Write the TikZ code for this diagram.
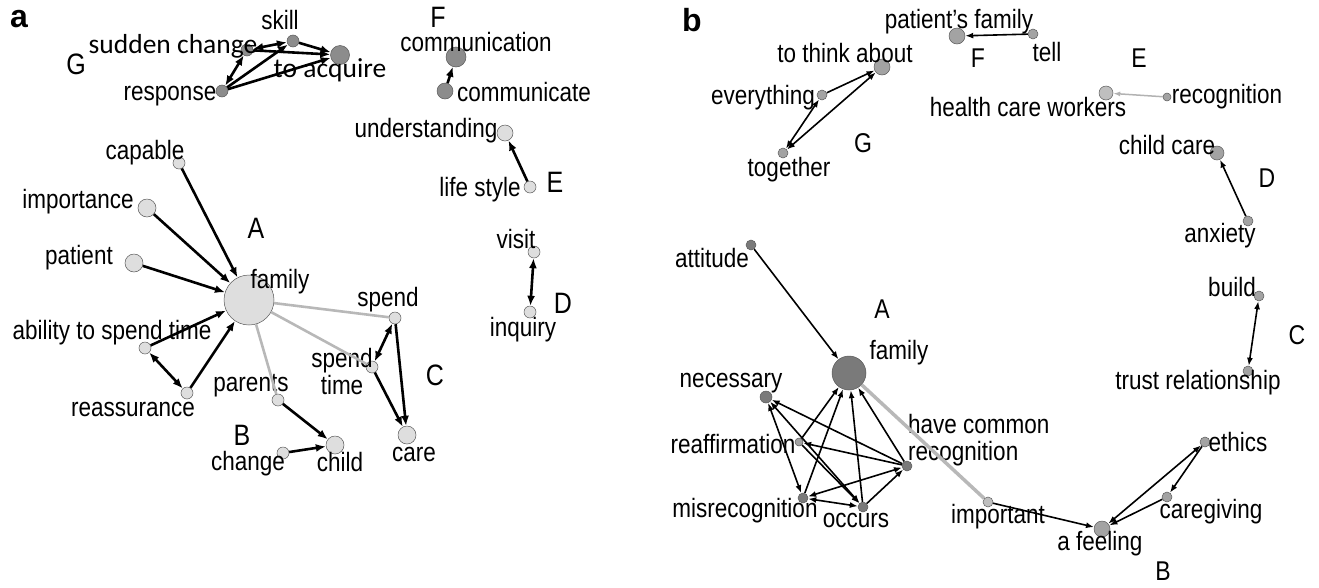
\documentclass[tikz,border=0pt]{standalone}
\usepackage{fontspec}
\setmainfont{Liberation Sans}
\newfontfamily\carl{Carlito}
\usepackage{graphicx}
\usepackage{tikz}
\usetikzlibrary{arrows.meta, positioning}
\newcommand*{\st}[1]{\scalebox{1}[1.18]{#1}}

\tikzset{
 dot/.style={circle, draw=black!65, line width=0.5pt, inner sep=0pt},
 lt/.style={fill=black!13},
 dk/.style={fill=black!45},
 md/.style={fill=black!36},
 db/.style={fill=black!52},
 lbl/.style={font=\fontsize{22.5}{27}\selectfont, inner sep=0pt},
 lblc/.style={font=\carl\fontsize{27.5}{29}\selectfont, inner sep=0pt},
 grp/.style={font=\fontsize{25}{27}\selectfont, inner sep=0pt},
 grpb/.style={font=\fontsize{23}{25}\selectfont, inner sep=0pt},
 panel/.style={font=\bfseries\fontsize{32}{33}\selectfont, inner sep=0pt},
 ea/.style={line width=2.6pt, -{Latex[length=10pt,width=8pt]}},
 eab/.style={line width=2.6pt, {Latex[length=10pt,width=8pt]}-{Latex[length=10pt,width=8pt]}},
 eb/.style={line width=1.6pt, -{Latex[length=8pt,width=6pt]}},
 ebb/.style={line width=1.6pt, {Latex[length=8pt,width=6pt]}-{Latex[length=8pt,width=6pt]}},
 ga/.style={line width=2.6pt, draw=black!28},
}

\begin{document}
\begin{tikzpicture}[x=1pt, y=-1pt]
 \useasboundingbox (0,0) rectangle (1319,587);

 % panel a
 \node[panel] (pa) at (19,19) {a};

 % G
 \node[dot, dk, minimum size=12pt] (skill) at (293,41) {};
 \node[dot, dk, minimum size=12pt] (sudden) at (247,50) {};
 \node[dot, dk, minimum size=19pt] (acquire) at (340,55) {};
 \node[dot, dk, minimum size=12pt] (response) at (222,91) {};
 \node[lbl] (skill-l) at (280,20) {\st{skill}};
 \node[lblc] (sudden-l) at (173,46) {sudden change};
 \node[lblc] (acquire-l) at (330,70) {to acquire};
 \node[lbl] (response-l) at (170,96) {\st{response}};
 \node[grp] (ga) at (76,64) {\st{G}};
 \draw[eab] (sudden) -- (skill);
 \draw[ea] (skill) -- (acquire);
 \draw[ea] (sudden) -- (acquire);
 \draw[ea] (response) -- (acquire);
 \draw[ea] (response) -- (skill);
 \draw[eab] (response) -- (sudden);

 % F
 \node[dot, dk, minimum size=20pt] (comm) at (456,57) {};
 \node[dot, dk, minimum size=16pt] (commt) at (445,91) {};
 \node[grp] (fa) at (438,17) {\st{F}};
 \node[lbl] (comm-l) at (476,42) {\st{communication}};
 \node[lbl] (commt-l) at (524,92) {\st{communicate}};
 \draw[ea] (commt) -- (comm);

 % E
 \node[dot, lt, minimum size=16pt] (underst) at (505,133) {};
 \node[dot, lt, minimum size=12pt] (lifestyle) at (530,187) {};
 \node[lbl] (underst-l) at (426,131) {\st{understanding}};
 \node[lbl] (lifestyle-l) at (480,190) {\st{life style}};
 \node[grp] (ea) at (555,182) {\st{E}};
 \draw[ea] (lifestyle) -- (underst);

 % D
 \node[dot, lt, minimum size=12pt] (visit) at (534,252) {};
 \node[dot, lt, minimum size=12pt] (inquiry) at (530,312) {};
 \node[lbl] (visit-l) at (516,239) {\st{visit}};
 \node[lbl] (inquiry-l) at (523,330) {\st{inquiry}};
 \node[grp] (da) at (563,303) {\st{D}};
 \draw[eab] (visit) -- (inquiry);

 % A
 \node[dot, lt, minimum size=50pt] (family) at (249,300) {};
 \node[lbl] (family-l) at (280,282) {\st{family}};
 \node[grp] (aa) at (256,228) {\st{A}};
 \node[dot, lt, minimum size=12pt] (capable) at (179,163) {};
 \node[dot, lt, minimum size=18pt] (importance) at (147,208) {};
 \node[dot, lt, minimum size=18pt] (patient) at (134,263) {};
 \node[dot, lt, minimum size=12pt] (ability) at (145,348) {};
 \node[dot, lt, minimum size=12pt] (reassur) at (187,393) {};
 \node[lbl] (capable-l) at (145,153) {\st{capable}};
 \node[lbl] (importance-l) at (78,202) {\st{importance}};
 \node[lbl] (patient-l) at (79,258) {\st{patient}};
 \node[lbl] (ability-l) at (112,333) {\st{ability to spend time}};
 \node[lbl] (reassur-l) at (133,409) {\st{reassurance}};
 \draw[ea] (capable) -- (family);
 \draw[ea] (importance) -- (family);
 \draw[ea] (patient) -- (family);
 \draw[ea] (ability) -- (family);
 \draw[ea] (reassur) -- (family);
 \draw[eab] (ability) -- (reassur);

 % B
 \node[dot, lt, minimum size=12pt] (parents) at (278,400) {};
 \node[dot, lt, minimum size=18pt] (child) at (335,445) {};
 \node[dot, lt, minimum size=12pt] (change) at (283,453) {};
 \node[lbl] (parents-l) at (251,386) {\st{parents}};
 \node[lbl] (child-l) at (340,462) {\st{child}};
 \node[lbl] (change-l) at (248,464) {\st{change}};
 \node[grp] (ba) at (242,435) {\st{B}};
 \draw[ea] (parents) -- (child);
 \draw[ea] (change) -- (child);

 % C
 \node[dot, lt, minimum size=12pt] (spend) at (395,318) {};
 \node[dot, lt, minimum size=12pt] (spendt) at (372,367) {};
 \node[dot, lt, minimum size=18pt] (care) at (407,435) {};
 \node[lbl] (spend-l) at (388,300) {\st{spend}};
 \node[lbl, align=center] (spendt-l) at (342,372) {\st{spend}\\\st{time}};
 \node[lbl] (care-l) at (414,454) {\st{care}};
 \node[grp] (ca) at (435,375) {\st{C}};
 \draw[eab] (spend) -- (spendt);
 \draw[ea] (spend) -- (care);
 \draw[ea] (spendt) -- (care);

 \draw[ga] (family) -- (parents);
 \draw[ga] (family) -- (spend);
 \draw[ga] (family) -- (spendt);

 % panel b
 \node[panel] (pb) at (692,20) {b};

 % G
 \node[dot, md, minimum size=16pt] (think) at (882,67) {};
 \node[dot, md, minimum size=10pt] (everything) at (822,95) {};
 \node[dot, md, minimum size=10pt] (together) at (783,153) {};
 \node[lbl] (think-l) at (845,53) {\st{to think about}};
 \node[lbl] (everything-l) at (763,98) {\st{everything}};
 \node[lbl] (together-l) at (789,170) {\st{together}};
 \node[grpb] (gb) at (863,143) {\st{G}};
 \draw[eb] (everything) -- (think);
 \draw[ebb] (together) -- (think);
 \draw[ebb] (everything) -- (together);

 % F
 \node[dot, md, minimum size=16pt] (pfamily) at (957,36) {};
 \node[dot, md, minimum size=10pt] (tell) at (1033,34) {};
 \node[lbl] (pfamily-l) at (959,22) {\st{patient's family}};
 \node[lbl] (tell-l) at (1047,52) {\st{tell}};
 \node[grpb] (fb) at (978,58) {\st{F}};
 \draw[eb] (tell) -- (pfamily);

 % E
 \node[dot, fill=black!25, minimum size=14pt] (hcw) at (1106,93) {};
 \node[dot, md, minimum size=8pt] (recog) at (1167,97) {};
 \node[lbl] (hcw-l) at (1028,107) {\st{health care workers}};
 \node[lbl] (recog-l) at (1227,97) {\st{recognition}};
 \node[grpb] (eb) at (1139,58) {\st{E}};
 \draw[line width=1.5pt, draw=black!30, -{Latex[length=7pt,width=5pt]}] (recog) -- (hcw);

 % D
 \node[dot, md, minimum size=14pt] (ccare) at (1217,153) {};
 \node[dot, md, minimum size=10pt] (anxiety) at (1248,221) {};
 \node[lbl] (ccare-l) at (1167,145) {\st{child care}};
 \node[lbl] (anxiety-l) at (1220,236) {\st{anxiety}};
 \node[grpb] (db) at (1267,178) {\st{D}};
 \draw[eb] (anxiety) -- (ccare);

 % C
 \node[dot, md, minimum size=10pt] (build) at (1259,296) {};
 \node[dot, md, minimum size=10pt] (trust) at (1248,371) {};
 \node[lbl] (build-l) at (1232,287) {\st{build}};
 \node[lbl] (trust-l) at (1198,383) {\st{trust relationship}};
 \node[grpb] (cb) at (1297,335) {\st{C}};
 \draw[ebb] (build) -- (trust);

 % A
 \node[dot, db, minimum size=34pt] (bfamily) at (849,373) {};
 \node[dot, db, minimum size=10pt] (attitude) at (751,245) {};
 \node[dot, db, minimum size=12pt] (necessary) at (766,397) {};
 \node[dot, md, minimum size=8pt] (reaff) at (799,442) {};
 \node[dot, db, minimum size=10pt] (hcr) at (907,466) {};
 \node[dot, db, minimum size=10pt] (misrec) at (803,498) {};
 \node[dot, db, minimum size=10pt] (occurs) at (863,507) {};
 \node[lbl] (bfamily-l) at (899,353) {\st{family}};
 \node[grpb] (ab) at (882,309) {\st{A}};
 \node[lbl] (attitude-l) at (712,258) {\st{attitude}};
 \node[lbl] (necessary-l) at (731,383) {\st{necessary}};
 \node[lbl] (reaff-l) at (733,444) {\st{reaffirmation}};
 \node[lbl, align=left, anchor=west] (hcr-l) at (908,440) {\st{have common}\\\st{recognition}};
 \node[lbl] (misrec-l) at (745,511) {\st{misrecognition}};
 \node[lbl] (occurs-l) at (856,520) {\st{occurs}};
 \draw[eb] (attitude) -- (bfamily);
 \draw[eb] (reaff) -- (bfamily);
 \draw[eb] (misrec) -- (bfamily);
 \draw[eb] (occurs) -- (bfamily);
 \draw[eb] (hcr) -- (bfamily);
 \draw[eb] (hcr) -- (necessary);
 \draw[eb] (hcr) -- (reaff);
 \draw[ebb] (necessary) -- (misrec);
 \draw[ebb] (necessary) -- (occurs);
 \draw[eb] (reaff) -- (occurs);
 \draw[ebb] (misrec) -- (hcr);
 \draw[ebb] (misrec) -- (occurs);
 \draw[eb] (occurs) -- (hcr);

 % B
 \node[dot, fill=black!25, minimum size=10pt] (important) at (988,502) {};
 \node[dot, md, minimum size=16pt] (feeling) at (1102,529) {};
 \node[dot, md, minimum size=10pt] (ethics) at (1205,442) {};
 \node[dot, md, minimum size=10pt] (caregiving) at (1167,497) {};
 \node[lbl] (important-l) at (998,517) {\st{important}};
 \node[lbl] (feeling-l) at (1100,544) {\st{a feeling}};
 \node[lbl] (ethics-l) at (1238,442) {\st{ethics}};
 \node[lbl] (caregiving-l) at (1211,512) {\st{caregiving}};
 \node[grpb] (bb) at (1163,571) {\st{B}};
 \draw[eb] (important) -- (feeling);
 \draw[ebb] (ethics) -- (feeling);
 \draw[eb] (caregiving) -- (feeling);
 \draw[eb] (ethics) -- (caregiving);

 \draw[line width=3.5pt, draw=black!28] (bfamily) -- (important);
\end{tikzpicture}
\end{document}
